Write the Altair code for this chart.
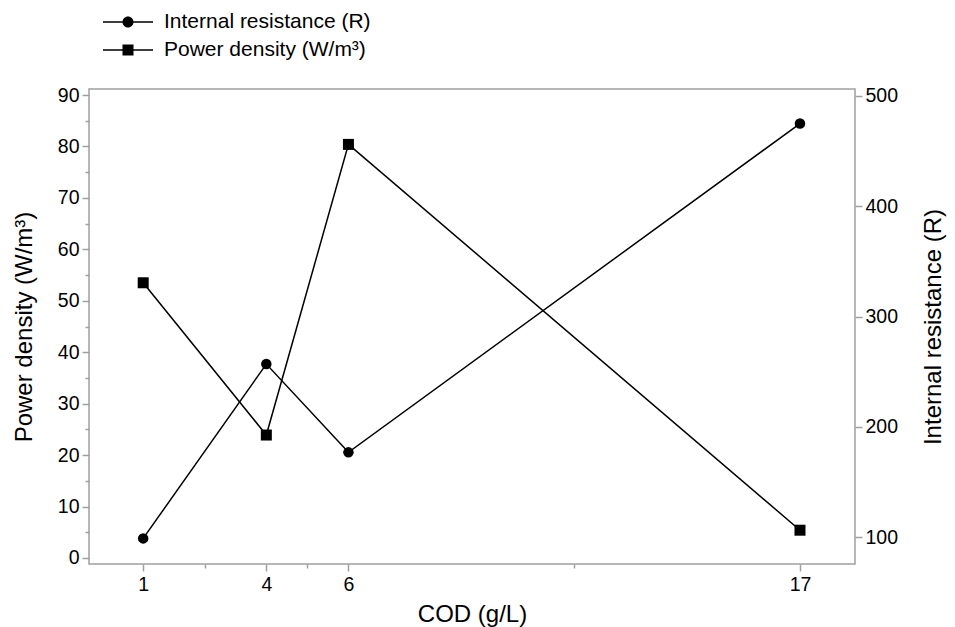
import altair as alt
import pandas as pd

# ---- data ----
cod = [1, 4, 6, 17]
power_density = [53.5, 23.9, 80.4, 5.4]          # W/m³ (left axis)
internal_resistance = [99, 257, 177, 475]         # R (right axis)
x_ticks = [1, 4, 6, 17]
x_minor = [2.5, 5, 11.5]
pd_ticks = [0, 10, 20, 30, 40, 50, 60, 70, 80, 90]
pd_minor = [5, 15, 25, 35, 45, 55, 65, 75, 85]
ir_ticks = [100, 200, 300, 400, 500]
series = ["Internal resistance (R)", "Power density (W/m³)"]

df = pd.DataFrame({"COD": cod, "PD": power_density, "IR": internal_resistance})
leg = pd.DataFrame({"series": series})

FONT = "Liberation Sans"
GRAY = "#a0a0a0"

xscale = alt.Scale(domain=[-0.32, 18.34], nice=False, zero=False)
pdscale = alt.Scale(domain=[-1.17, 91.17], nice=False, zero=False)
irscale = alt.Scale(domain=[75.8, 506.3], nice=False, zero=False)

base = alt.Chart(df)

x_major = alt.Axis(values=x_ticks, title="COD (g/L)", orient="bottom", tickSize=7,
                   labelPadding=4, titlePadding=9, labelFlush=False)
x_minor_axis = alt.Axis(values=x_minor, orient="bottom", labels=False, title=None, tickSize=4)
pd_major = alt.Axis(values=pd_ticks, title="Power density (W/m³)", orient="left", tickSize=7,
                    labelPadding=3, titlePadding=21, labelFlush=False)
pd_minor_axis = alt.Axis(values=pd_minor, orient="left", labels=False, title=None, tickSize=4)
ir_axis = alt.Axis(values=ir_ticks, title="Internal resistance (R)", orient="right",
                   tickSize=7, labelPadding=3, titlePadding=24, titleAngle=270,
                   titleBaseline="top", labelFlush=False)

pd_line = base.mark_line(color="black", strokeWidth=1.5).encode(
    x=alt.X("COD:Q", scale=xscale, axis=x_major),
    y=alt.Y("PD:Q", scale=pdscale, axis=pd_major),
)
pd_pts = base.mark_point(shape="square", filled=True, size=121, color="black", opacity=1).encode(
    x=alt.X("COD:Q", scale=xscale, axis=None),
    y=alt.Y("PD:Q", scale=pdscale, axis=None),
)
minor_layer = base.mark_point(opacity=0).encode(
    x=alt.X("COD:Q", scale=xscale, axis=x_minor_axis),
    y=alt.Y("PD:Q", scale=pdscale, axis=pd_minor_axis),
)
ir_line = base.mark_line(color="black", strokeWidth=1.5).encode(
    x=alt.X("COD:Q", scale=xscale, axis=None),
    y=alt.Y("IR:Q", scale=irscale, axis=ir_axis),
)
ir_pts = base.mark_point(shape="circle", filled=True, size=110, color="black", opacity=1).encode(
    x=alt.X("COD:Q", scale=xscale, axis=None),
    y=alt.Y("IR:Q", scale=irscale, axis=None),
)

# legend glyphs: line segments drawn as thin filled bars on both sides of the marker
bars = ("M-1.786,-0.054L-0.35,-0.054L-0.35,0.054L-1.786,0.054Z"
        "M0.35,-0.054L1.786,-0.054L1.786,0.054L0.35,0.054Z")
circ_path = bars + "M-0.393,0A0.393,0.393,0,1,1,0.393,0A0.393,0.393,0,1,1,-0.393,0Z"
sq_path = bars + "M-0.393,-0.393L0.393,-0.393L0.393,0.393L-0.393,0.393Z"

legend_layer = alt.Chart(leg).mark_point(opacity=0, filled=True, color="black").encode(
    shape=alt.Shape(
        "series:N",
        scale=alt.Scale(domain=series, range=[circ_path, sq_path]),
        legend=alt.Legend(
            title=None, orient="none", legendX=25, legendY=-81, direction="vertical",
            symbolSize=784, symbolStrokeWidth=0, symbolFillColor="black",
            symbolOpacity=1, labelOffset=22,
            rowPadding=4, padding=0, labelFont=FONT, labelFontSize=21,
            labelColor="black", labelLimit=400,
        ),
    )
)

chart = (
    alt.layer(pd_line, pd_pts, minor_layer, ir_line, ir_pts, legend_layer)
    .resolve_scale(y="independent")
    .resolve_axis(x="independent", y="independent")
    .properties(
        width=766,
        height=475,
        autosize=alt.AutoSizeParams(type="none"),
        padding={"left": 81, "top": 81, "right": 92, "bottom": 63},
    )
    .configure_axis(
        labelFont=FONT, titleFont=FONT, labelFontSize=19.5, titleFontSize=24,
        titleFontWeight="normal", labelColor="black", titleColor="black",
        tickColor=GRAY, tickWidth=1.5, domain=False, grid=False,
    )
    .configure_view(stroke=GRAY, strokeWidth=1.5)
    .configure_legend(labelFont=FONT)
)

chart.save("out.html", embed_options={"renderer": "svg", "actions": False})
